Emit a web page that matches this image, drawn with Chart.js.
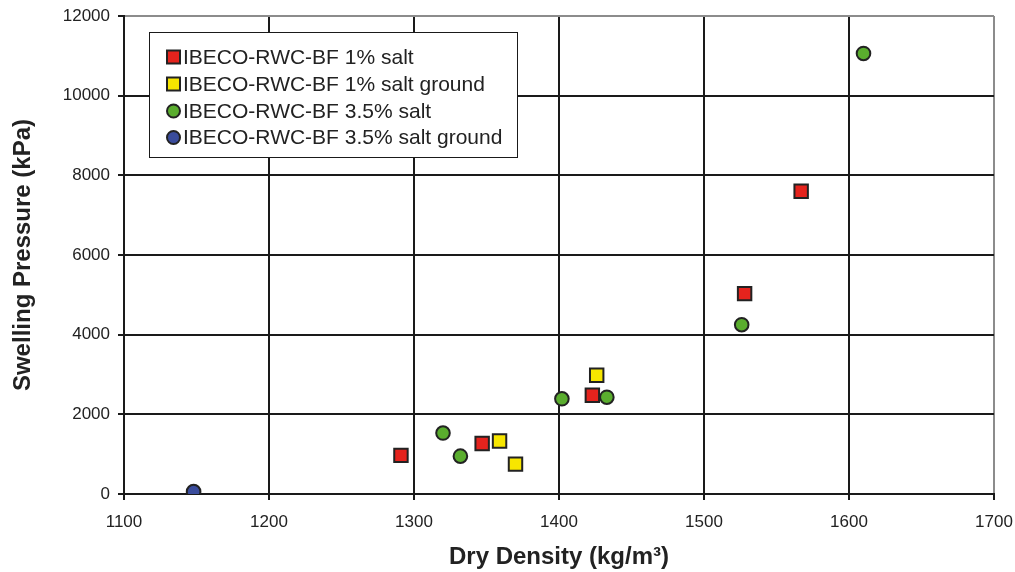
<!DOCTYPE html>
<html>
<head>
<meta charset="utf-8">
<script src="https://cdn.jsdelivr.net/npm/chart.js@4/dist/chart.umd.min.js"></script>
<style>
  html, body { margin: 0; padding: 0; background: #fff; }
  #wrap { position: relative; width: 1015px; height: 572px; }
</style>
</head>
<body>
<div id="wrap"><canvas id="swellChart" width="1015" height="572"></canvas></div>
<script>
// Dry density (kg/m3) and swelling pressure (kPa)
const salt1Density = [1291, 1347, 1423, 1528, 1567];
const salt1Pressure = [970, 1270, 2480, 5030, 7600];

const salt1GroundDensity = [1359, 1370, 1426];
const salt1GroundPressure = [1330, 750, 2980];

const salt35Density = [1320, 1332, 1402, 1433, 1526, 1610];
const salt35Pressure = [1530, 950, 2390, 2430, 4250, 11060];

const salt35GroundDensity = [1148];
const salt35GroundPressure = [60];

const seriesLabels = [
  "IBECO-RWC-BF 1% salt",
  "IBECO-RWC-BF 1% salt ground",
  "IBECO-RWC-BF 3.5% salt",
  "IBECO-RWC-BF 3.5% salt ground"
];

function toPoints(xs, ys) {
  return xs.map((x, i) => ({ x: x, y: ys[i] }));
}

const FONT = "'Liberation Sans', Arial, sans-serif";
const INK = "#1a1a1a";

const datasets = [
  { label: seriesLabels[0], data: toPoints(salt1Density, salt1Pressure), pointStyle: "rect", pointRadius: 9.5, backgroundColor: "#e5231d" },
  { label: seriesLabels[1], data: toPoints(salt1GroundDensity, salt1GroundPressure), pointStyle: "rect", pointRadius: 9.5, backgroundColor: "#f7e600" },
  { label: seriesLabels[2], data: toPoints(salt35Density, salt35Pressure), pointStyle: "circle", pointRadius: 6.8, backgroundColor: "#5aad2e" },
  { label: seriesLabels[3], data: toPoints(salt35GroundDensity, salt35GroundPressure), pointStyle: "circle", pointRadius: 6.8, backgroundColor: "#3a4c9c" }
].map(ds => Object.assign(ds, {
  borderColor: "#222",
  borderWidth: 2,
  pointBorderWidth: 2,
  pointHoverRadius: ds.pointRadius
}));

// legend drawn inside the plot, top-left box
const boxLegend = {
  id: "boxLegend",
  afterDraw(chart) {
    const ctx = chart.ctx;
    const left = 149.5, top = 32.5, w = 368, h = 125;
    ctx.save();
    ctx.fillStyle = "#fff";
    ctx.fillRect(left, top, w, h);
    ctx.strokeStyle = INK;
    ctx.lineWidth = 1;
    ctx.strokeRect(left, top, w, h);

    const rowsY = [57, 84, 111, 137.5];
    ctx.font = "21px " + FONT;
    ctx.textBaseline = "middle";
    ctx.textAlign = "left";
    chart.data.datasets.forEach((ds, i) => {
      const y = rowsY[i];
      ctx.fillStyle = ds.backgroundColor;
      ctx.strokeStyle = "#222";
      ctx.lineWidth = 2;
      if (ds.pointStyle === "rect") {
        ctx.fillRect(167, y - 6.5, 13, 13);
        ctx.strokeRect(167, y - 6.5, 13, 13);
      } else {
        ctx.beginPath();
        ctx.arc(173.5, y, 6.5, 0, Math.PI * 2);
        ctx.fill();
        ctx.stroke();
      }
      ctx.fillStyle = "#222";
      ctx.fillText(ds.label, 183, y + 1);
    });
    ctx.restore();
  }
};

const plainTick = (v) => String(v);

const chart = new Chart(document.getElementById("swellChart").getContext("2d"), {
  type: "scatter",
  data: { datasets: datasets },
  plugins: [boxLegend],
  options: {
    responsive: false,
    animation: false,
    layout: { padding: { left: 9, right: 21, top: 16, bottom: 0 } },
    plugins: { legend: { display: false }, tooltip: { enabled: false } },
    scales: {
      x: {
        type: "linear",
        min: 1100,
        max: 1700,
        afterFit: (scale) => {
          scale.height = 78;
          scale.paddingLeft = 0;
          scale.paddingRight = 0;
        },
        ticks: { stepSize: 100, color: "#222", font: { family: FONT, size: 17 }, padding: 12, callback: plainTick },
        grid: {
          color: (c) => (c.tick && c.tick.value === 1700 ? "#8c8c8c" : INK),
          lineWidth: 2,
          tickColor: INK,
          tickLength: 6
        },
        border: { color: INK, width: 2 },
        title: {
          display: true,
          text: "Dry Density (kg/m³)",
          color: "#222",
          font: { family: FONT, size: 24, weight: "bold" },
          padding: 0
        }
      },
      y: {
        type: "linear",
        min: 0,
        max: 12000,
        afterFit: (scale) => {
          scale.width = 115;
          scale.paddingTop = 0;
          scale.paddingBottom = 0;
        },
        ticks: { stepSize: 2000, color: "#222", font: { family: FONT, size: 17 }, padding: 8, callback: plainTick },
        grid: {
          color: (c) => (c.tick && c.tick.value === 12000 ? "#8c8c8c" : INK),
          lineWidth: 2,
          tickColor: INK,
          tickLength: 6
        },
        border: { color: INK, width: 2 },
        title: {
          display: true,
          text: "Swelling Pressure (kPa)",
          color: "#222",
          font: { family: FONT, size: 24, weight: "bold" },
          padding: 0
        }
      }
    }
  }
});
</script>
</body>
</html>
